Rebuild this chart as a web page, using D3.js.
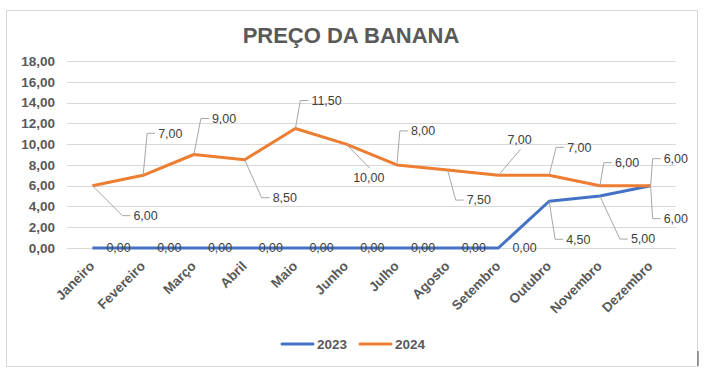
<!DOCTYPE html>
<html>
<head>
<meta charset="utf-8">
<script src="https://cdn.jsdelivr.net/npm/d3@7/dist/d3.min.js"></script>
<style>
  body { margin: 0; background: #fff; overflow: hidden; }
  text { font-family: "Liberation Sans", Arial, sans-serif; }
  .grid line { stroke: #d9d9d9; }
  .tick-y, .tick-x { font-weight: bold; font-size: 13.5px; fill: #595959; }
  .lbl { font-size: 12.5px; fill: #404040; }
  .leader { stroke: #a6a6a6; fill: none; stroke-width: 1; }
</style>
</head>
<body>
<svg width="711" height="378"></svg>
<script>
const months = ["Janeiro", "Fevereiro", "Março", "Abril", "Maio", "Junho",
                "Julho", "Agosto", "Setembro", "Outubro", "Novembro", "Dezembro"];
const series2023 = [0, 0, 0, 0, 0, 0, 0, 0, 0, 4.5, 5, 6];
const series2024 = [6, 7, 9, 8.5, 11.5, 10, 8, 7.5, 7, 7, 6, 6];
const yTicks = [0, 2, 4, 6, 8, 10, 12, 14, 16, 18];

// label placement: [dx, dy, leader] relative to the point
const place2023 = [[14,0,""],[14,0,""],[14,0,""],[14,0,""],[14,0,""],[14,0,""],
                   [14,0,""],[14,0,""],[14,0,""],[17,38,"e"],[31,43,"e"],[13,33,"e"]];
const place2024 = [[41,30,"e"],[15,-42,"e"],[18,-36,"e"],[28,38,"e"],[16,-28,"e"],[7,34,"d"],
                   [14,-34,"e"],[19,30,"e"],[9,-36,"d"],[18,-28,"e"],[15,-23,"e"],[13,-27,"e"]];

const svg = d3.select("svg");
const fmt = v => d3.format(".2f")(v).replace(".", ",");

svg.append("rect").attr("x", 6.5).attr("y", 10.5).attr("width", 691).attr("height", 356)
  .attr("fill", "#fff").attr("stroke", "#d9d9d9");
svg.append("line").attr("x1", 698).attr("x2", 698).attr("y1", 351).attr("y2", 366)
  .attr("stroke", "#404040");

svg.append("text").attr("x", 351).attr("y", 43).attr("text-anchor", "middle")
  .style("font-size", "22px").style("font-weight", "bold").attr("fill", "#595959")
  .text("PREÇO DA BANANA");

const x = d3.scaleBand().domain(months).range([67, 676]);
const y = d3.scaleLinear().domain([0, 18]).range([248, 61]);
const cx = m => x(m) + x.bandwidth() / 2;

svg.append("g").attr("class", "grid").selectAll("line").data(yTicks).join("line")
  .attr("x1", 67).attr("x2", 676)
  .attr("y1", d => Math.round(y(d)) + 0.5).attr("y2", d => Math.round(y(d)) + 0.5);

svg.append("g").selectAll("text").data(yTicks).join("text").attr("class", "tick-y")
  .attr("x", 55).attr("y", d => y(d)).attr("dy", "0.35em").attr("text-anchor", "end")
  .text(fmt);

svg.append("g").selectAll("text").data(months).join("text").attr("class", "tick-x")
  .attr("text-anchor", "end")
  .attr("transform", d => `translate(${cx(d) + 3},${267}) rotate(-45)`)
  .text(d => d);

const line = d3.line().x((d, i) => cx(months[i])).y(d => y(d));

const series = [
  { name: "2023", values: series2023, color: "#4472c4", place: place2023 },
  { name: "2024", values: series2024, color: "#ed7d31", place: place2024 }
];

series.forEach(s => {
  svg.append("path").datum(s.values).attr("d", line)
    .attr("fill", "none").attr("stroke", s.color).attr("stroke-width", 3)
    .attr("stroke-linejoin", "round");
});

series.forEach(s => {
  const g = svg.append("g");
  s.values.forEach((v, i) => {
    const px = cx(months[i]), py = y(v);
    const [dx, dy, kind] = s.place[i];
    const tl = px + dx, ty = py + dy;
    const t = g.append("text").attr("class", "lbl").attr("x", tl).attr("y", ty)
      .attr("dy", "0.35em").text(fmt(v));
    const w = t.node().getComputedTextLength();
    if (kind === "e") {
      g.append("path").attr("class", "leader")
        .attr("d", `M${px},${py}L${tl - 11},${ty}L${tl - 3},${ty}`);
    } else if (kind === "d") {
      const sgn = dy > 0 ? -1 : 1;
      g.append("path").attr("class", "leader")
        .attr("d", `M${px},${py}L${tl + w / 2 + 1},${ty + sgn * 10}`);
    }
  });
});

const legend = svg.append("g");
[["2023", "#4472c4", 282], ["2024", "#ed7d31", 360]].forEach(([n, c, lx]) => {
  legend.append("line").attr("x1", lx).attr("x2", lx + 31).attr("y1", 344).attr("y2", 344)
    .attr("stroke", c).attr("stroke-width", 3).attr("stroke-linecap", "round");
  legend.append("text").attr("x", lx + 35).attr("y", 344).attr("dy", "0.35em")
    .style("font-size", "13.5px").style("font-weight", "bold").attr("fill", "#595959").text(n);
});
</script>
</body>
</html>
